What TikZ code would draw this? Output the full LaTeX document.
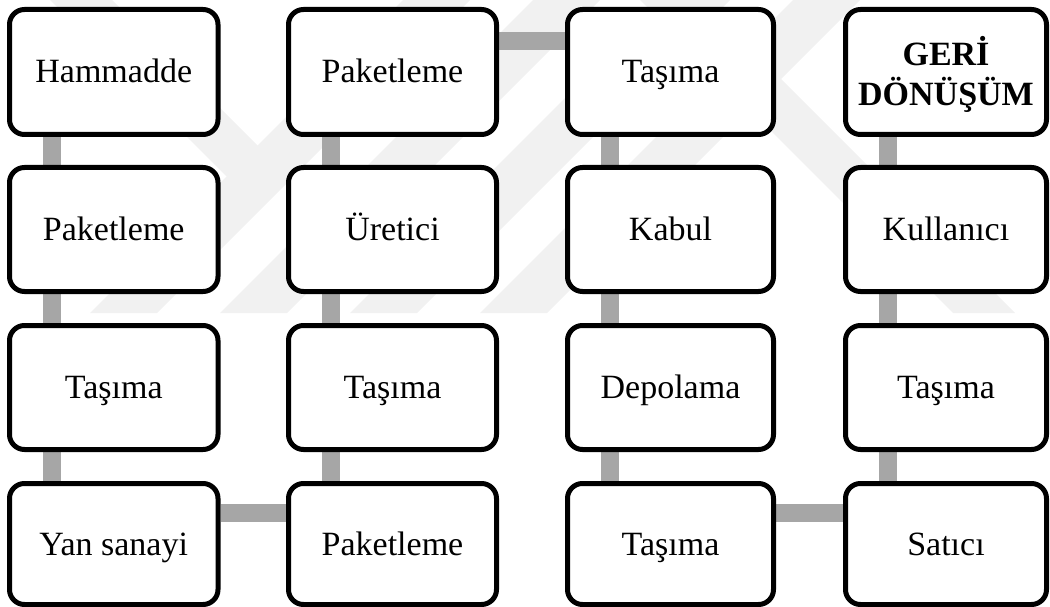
\documentclass[tikz,border=0pt]{standalone}
\usepackage{fontspec}
\setmainfont{Liberation Serif}
\usetikzlibrary{backgrounds}

\definecolor{linkgray}{HTML}{A6A6A6}
\definecolor{markgray}{HTML}{F1F1F1}

\tikzset{
  stagebox/.style={draw=black, line width=5pt, rounded corners=15pt, fill=white,
    align=center, inner sep=0pt, font=\fontsize{34pt}{36pt}\selectfont},
  stage/.style={stagebox, text height=26pt, text depth=4pt},
  link/.style={draw=linkgray, line width=18pt},
  mark band/.style={fill=markgray, draw=none}
}

\begin{document}
\begin{tikzpicture}[x=1pt, y=-1pt]
  \useasboundingbox (0,0) rectangle (1050,607);

  \node[stage, minimum width=208.5pt, minimum height=125pt] (a1) at (113.75,72)  {Hammadde};
  \node[stage, minimum width=208.5pt, minimum height=124pt] (a2) at (113.75,229.5) {Paketleme};
  \node[stage, minimum width=208.5pt, minimum height=124pt] (a3) at (113.75,387.5) {Taşıma};
  \node[stage, minimum width=208.5pt, minimum height=121pt] (a4) at (113.75,544) {Yan sanayi};

  \node[stage, minimum width=208pt, minimum height=125pt] (b1) at (392.5,72)  {Paketleme};
  \node[stage, minimum width=208pt, minimum height=124pt] (b2) at (392.5,229.5) {Üretici};
  \node[stage, minimum width=208pt, minimum height=124pt] (b3) at (392.5,387.5) {Taşıma};
  \node[stage, minimum width=208pt, minimum height=121pt] (b4) at (392.5,544) {Paketleme};

  \node[stage, minimum width=206pt, minimum height=125pt] (c1) at (670.5,72)  {Taşıma};
  \node[stage, minimum width=206pt, minimum height=124pt] (c2) at (670.5,229.5) {Kabul};
  \node[stage, minimum width=206pt, minimum height=124pt] (c3) at (670.5,387.5) {Depolama};
  \node[stage, minimum width=206pt, minimum height=121pt] (c4) at (670.5,544) {Taşıma};

  \node[stagebox, text height=30pt, text depth=42pt, minimum width=201pt, minimum height=125pt] (d1) at (946,72)
    {\bfseries\begin{tabular}[t]{@{}c@{}}GERİ\\DÖNÜŞÜM\end{tabular}};
  \node[stage, minimum width=201pt, minimum height=124pt] (d2) at (946,229.5) {Kullanıcı};
  \node[stage, minimum width=201pt, minimum height=124pt] (d3) at (946,387.5) {Taşıma};
  \node[stage, minimum width=201pt, minimum height=121pt] (d4) at (946,544) {Satıcı};

  \begin{scope}[on background layer]
    % faint emblem behind everything
    \begin{scope}
      \clip (0,0) rectangle (1050,313);
      \foreach \s in {90,220,350,480} {
        \path[mark band] (\s,313) -- (\s+67,313) -- (\s+380,0) -- (\s+313,0) -- cycle;
      }
      \path[mark band] (50,0) -- (112,0) -- (290,178) -- (228,178) -- cycle;
      \path[mark band] (640,0) -- (702,0) -- (1015,313) -- (953,313) -- cycle;
    \end{scope}
    % connecting bars
    \foreach \c in {a,b,c,d} {
      \foreach \r/\n in {1/2,2/3,3/4} {
        \draw[link] ([xshift=44.5pt]\c\r.south west) -- ([xshift=44.5pt]\c\n.north west);
      }
    }
    \draw[link] ([yshift=-32pt]a4.north east) -- ([yshift=-32pt]b4.north west);
    \draw[link] ([yshift=-34pt]b1.north east) -- ([yshift=-34pt]c1.north west);
    \draw[link] ([yshift=-32pt]c4.north east) -- ([yshift=-32pt]d4.north west);
  \end{scope}
\end{tikzpicture}
\end{document}
